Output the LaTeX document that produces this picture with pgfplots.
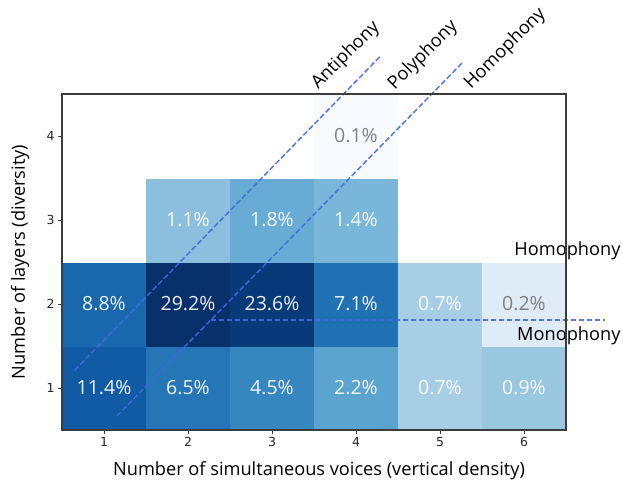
\documentclass[border=0pt]{standalone}
\usepackage{pgfplots}
\usepackage{pgfplotstable}
\pgfplotsset{compat=1.18}
\usepackage{fontspec}
\setmainfont{Open Sans}
\newfontfamily\dejavu{DejaVu Sans}
\definecolor{axgray}{RGB}{60,60,60}
\definecolor{lineblue}{RGB}{65,105,225}
\definecolor{lblgray}{RGB}{128,128,128}

\pgfplotstableread{
x y v
1 1 11.4
2 1 6.5
3 1 4.5
4 1 2.2
5 1 0.7
6 1 0.9
1 2 8.8
2 2 29.2
3 2 23.6
4 2 7.1
5 2 0.7
6 2 0.2
1 3 0
2 3 1.1
3 3 1.8
4 3 1.4
5 3 0
6 3 0
1 4 0
2 4 0
3 4 0
4 4 0.1
5 4 0
6 4 0
}\heat

\pgfplotstableread{
x y lab
1 1 11.4\%
2 1 6.5\%
3 1 4.5\%
4 1 2.2\%
5 1 0.7\%
6 1 0.9\%
1 2 8.8\%
2 2 29.2\%
3 2 23.6\%
4 2 7.1\%
5 2 0.7\%
2 3 1.1\%
3 3 1.8\%
4 3 1.4\%
}\labw

\pgfplotstableread{
x y lab
6 2 0.2\%
4 4 0.1\%
}\labg

\begin{document}
\begin{tikzpicture}
\begin{axis}[
  name=ax,
  scale only axis, width=504pt, height=336pt,
  xmin=0.5, xmax=6.5, ymin=0.5, ymax=4.5,
  clip=false, axis on top,
  axis line style={axgray, line width=1.1pt},
  xtick={1,...,6}, ytick={1,...,4},
  tick align=outside, xtick pos=bottom, ytick pos=left,
  major tick length=4pt,
  tick style={axgray, line width=0.8pt},
  /pgf/number format/assume math mode=true,
  ticklabel style={font=\dejavu\fontsize{12.5}{14}\selectfont, text=black!85},
  xlabel={Number of simultaneous voices (vertical density)},
  ylabel={Number of layers (diversity)},
  label style={font=\fontsize{18.2}{21}\selectfont},
  xlabel style={at={(axis description cs:0.51,-0.122)}, anchor=center},
  ylabel style={at={(axis description cs:-0.0833,0.5)}, anchor=center},
  colormap={logblues}{rgb255(0pt)=(255,255,255) rgb255(310pt)=(247,251,255) rgb255(618pt)=(222,235,247) rgb255(926pt)=(198,219,239) rgb255(1235pt)=(158,202,225) rgb255(1543pt)=(107,174,214) rgb255(1851pt)=(66,146,198) rgb255(2159pt)=(33,113,181) rgb255(2467pt)=(8,81,156) rgb255(2775pt)=(8,48,107)},
  point meta min=-1.31, point meta max=1.4654,
]
\addplot[matrix plot*, mesh/cols=6, point meta={log10(max(\thisrow{v},0.049))}] table[x=x,y=y] {\heat};

\addplot[draw=none, mark=none, nodes near coords, point meta=explicit symbolic,
  nodes near coords align=center,
  every node near coord/.append style={text=white, text opacity=0.92, font=\fontsize{19.5}{22}\selectfont, anchor=center}]
  table[x=x,y=y,meta=lab] {\labw};
\addplot[draw=none, mark=none, nodes near coords, point meta=explicit symbolic,
  nodes near coords align=center,
  every node near coord/.append style={text=lblgray, font=\fontsize{19.5}{22}\selectfont, anchor=center}]
  table[x=x,y=y,meta=lab] {\labg};

\addplot[lineblue, opacity=0.9, line width=1.5pt, dash pattern=on 5.5pt off 2.5pt] coordinates {(0.65,1.21) (4.30,4.96)};
\addplot[lineblue, opacity=0.9, line width=1.5pt, dash pattern=on 5.5pt off 2.5pt] coordinates {(1.153,0.666) (5.274,4.88)};
\addplot[lineblue, opacity=0.9, line width=1.5pt, dash pattern=on 5.5pt off 2.5pt] coordinates {(2.27,1.81) (6.97,1.81)};

\node[rotate=45, anchor=base west, font=\fontsize{18.2}{21}\selectfont, inner sep=0pt] at (axis cs:3.55,4.55) {Antiphony};
\node[rotate=45, anchor=base west, font=\fontsize{18.2}{21}\selectfont, inner sep=0pt] at (axis cs:4.46,4.54) {Polyphony};
\node[rotate=45, anchor=base west, font=\fontsize{18.2}{21}\selectfont, inner sep=0pt] at (axis cs:5.37,4.55) {Homophony};
\node[anchor=east, font=\fontsize{18.2}{21}\selectfont, inner sep=0pt] at (axis cs:7.151,2.636) {Homophony};
\node[anchor=east, font=\fontsize{18.2}{21}\selectfont, inner sep=0pt] at (axis cs:7.151,1.616) {Monophony};
\end{axis}
\pgfresetboundingbox
\path[use as bounding box] ([xshift=-62pt,yshift=-54pt]ax.south west) rectangle ([xshift=57pt,yshift=94pt]ax.north east);
\end{tikzpicture}
\end{document}
